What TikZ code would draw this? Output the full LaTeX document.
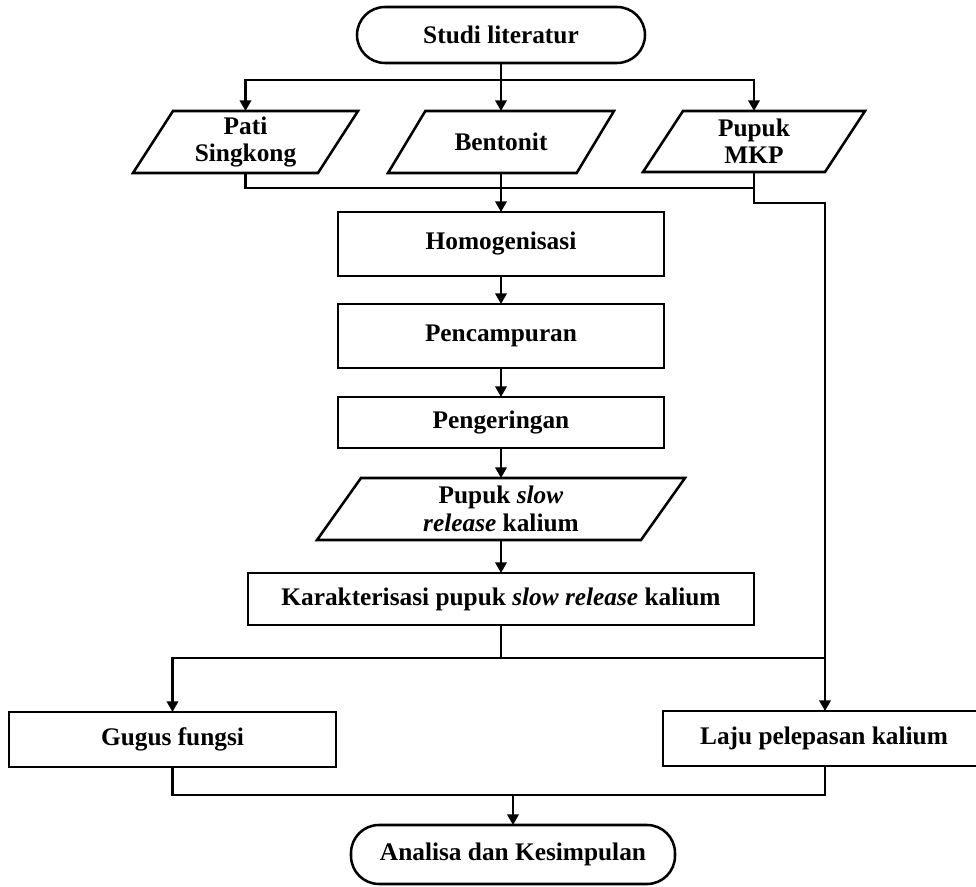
\documentclass[tikz,border=0pt]{standalone}
\usepackage{fontspec}
\setmainfont{Liberation Serif}
\usetikzlibrary{fit,arrows.meta,calc}
\tikzset{
  line/.style={draw=black, line width=1.9pt},
  arr/.style={line, -{Triangle[length=8pt,width=8.5pt]}},
  txt/.style={inner sep=0pt, outer sep=0pt, align=center,
    font=\fontsize{19pt}{20.5pt}\selectfont\bfseries},
  shp/.style={inner sep=0pt, outer sep=0pt},
  proc/.style={shp, line},
  term/.style={shp, line, rounded corners=21pt},
  iobox/.style={shp},
}
\newcommand{\ctext}[2]{\node[txt] at (#1.center) {#2};}
\begin{document}
\begin{tikzpicture}[x=0.75pt,y=-0.75pt]
\useasboundingbox (0,0) rectangle (976,887);
\fill[white] (0,0) rectangle (976,887);

% shapes
\node[term, fit={(357,7) (645,63)}] (start) {};
\node[iobox, fit={(133,111) (358,173)}] (pati) {};
\node[iobox, fit={(388,111) (614,173)}] (bent) {};
\node[iobox, fit={(643,111) (865,172)}] (mkp) {};
\node[proc, fit={(338,212) (664,276)}] (homo) {};
\node[proc, fit={(338,304) (664,368)}] (penc) {};
\node[proc, fit={(338,397) (664,448)}] (peng) {};
\node[iobox, fit={(317,478) (685,540)}] (slow) {};
\node[proc, fit={(248,573) (754,625)}] (kar) {};
\node[proc, fit={(9,712) (336,767)}] (gugus) {};
\node[proc, fit={(663,711) (985,766)}] (laju) {};
\node[term, fit={(351,825) (675,884)}] (end) {};

% parallelogram outlines
\draw[line] ([xshift=30pt]pati.north west) -- (pati.north east) -- ([xshift=-30pt]pati.south east) -- (pati.south west) -- cycle;
\draw[line] ([xshift=28pt]bent.north west) -- (bent.north east) -- ([xshift=-28pt]bent.south east) -- (bent.south west) -- cycle;
\draw[line] ([xshift=30pt]mkp.north west) -- (mkp.north east) -- ([xshift=-30pt]mkp.south east) -- (mkp.south west) -- cycle;
\draw[line] ([xshift=33pt]slow.north west) -- (slow.north east) -- ([xshift=-33pt]slow.south east) -- (slow.south west) -- cycle;

% texts
\ctext{start}{Studi literatur}
\ctext{pati}{Pati\\Singkong}
\ctext{bent}{Bentonit}
\ctext{mkp}{Pupuk\\MKP}
\ctext{homo}{Homogenisasi}
\ctext{penc}{Pencampuran}
\ctext{peng}{Pengeringan}
\ctext{slow}{Pupuk \textit{slow}\\\textit{release} kalium}
\ctext{kar}{Karakterisasi pupuk \textit{slow release} kalium}
\ctext{gugus}{Gugus fungsi}
\ctext{laju}{Laju pelepasan kalium}
\ctext{end}{Analisa dan Kesimpulan}

% junction coordinates
\coordinate (d) at (501,80);
\coordinate (m) at (501,188);
\coordinate (r1) at (825,203);
\coordinate (b) at (501,658);
\coordinate (e) at (513,795);

% connectors
\draw[line] (start.south) -- (d);
\draw[arr] (d) -| (pati.north);
\draw[arr] (d) -| (mkp.north);
\draw[arr] (d) -- (bent.north);
\draw[line] (pati.south) |- (mkp.south |- m);
\draw[arr] (mkp.south) |- (r1) -- (r1 |- laju.north);
\draw[arr] (bent.south) -- (homo.north);
\draw[arr] (homo.south) -- (penc.north);
\draw[arr] (penc.south) -- (peng.north);
\draw[arr] (peng.south) -- (slow.north);
\draw[arr] (slow.south) -- (kar.north);
\draw[line] (kar.south) -- (b);
\draw[arr] (b -| r1) -| (gugus.north);
\draw[line] (gugus.south) |- (r1 |- e) -- (r1 |- laju.south);
\draw[arr] (e) -- (end.north);
\end{tikzpicture}
\end{document}
